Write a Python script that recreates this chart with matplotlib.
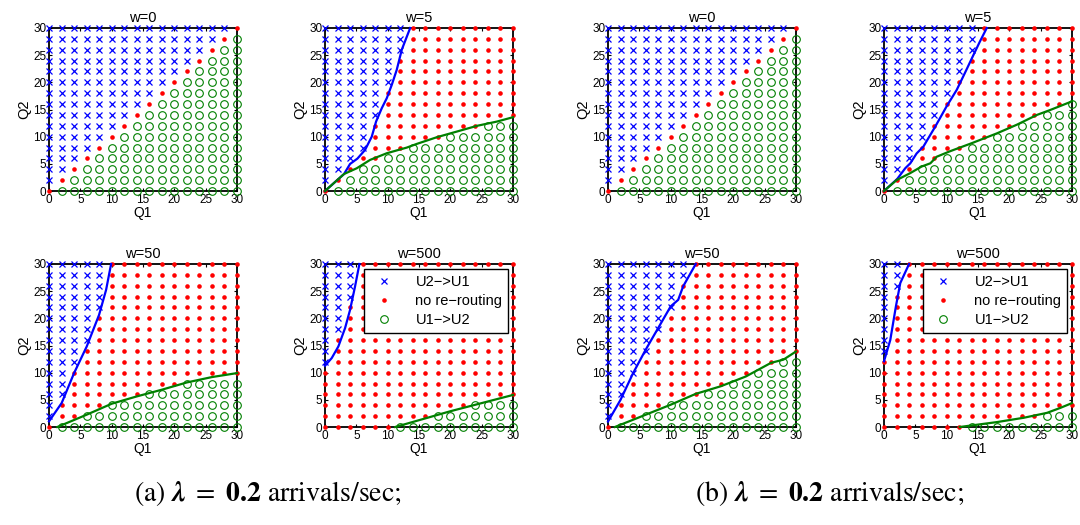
import matplotlib
matplotlib.use('Agg')
import matplotlib.pyplot as plt
from matplotlib.lines import Line2D

plt.rcParams['font.family'] = ['Liberation Sans', 'DejaVu Sans']
plt.rcParams['mathtext.fontset'] = 'stix'

# ---------------- data ----------------
Q_GRID = [0, 2, 4, 6, 8, 10, 12, 14, 16, 18, 20, 22, 24, 26, 28, 30]
TICKS = [0, 5, 10, 15, 20, 25, 30]
LEGEND_LABELS = ['U2\u2212>U1', 'no re\u2212routing', 'U1\u2212>U2']

# per Q1 column: smallest Q2 marked "U2->U1" (32 = none), largest Q2 marked "U1->U2" (-2 = none)
A_W0_BLUE_MIN = [2, 4, 6, 8, 10, 12, 14, 16, 18, 20, 22, 24, 26, 28, 30, 32]
A_W0_GREEN_MAX = [-2, 0, 2, 4, 6, 8, 10, 12, 14, 16, 18, 20, 22, 24, 26, 28]

A_W5_BLUE_MIN = [2, 4, 6, 8, 14, 20, 26, 32, 32, 32, 32, 32, 32, 32, 32, 32]
A_W5_GREEN_MAX = [-2, 0, 2, 4, 4, 6, 6, 8, 8, 8, 10, 10, 10, 12, 12, 12]
A_W5_BLUE_X = [0, 3.04, 4.0, 5.17, 6.39, 7.46, 8.15, 9.06, 9.86, 10.66, 11.45, 12.25, 13.59]
A_W5_BLUE_Y = [0, 3.13, 4.98, 5.96, 7.56, 10.0, 12.78, 15.24, 17.09, 19.55, 22.31, 26.0, 30]
A_W5_GREEN_X = [0, 3.04, 5.06, 7.19, 9.86, 13.05, 14.65, 17.85, 21.04, 24.24, 27.44, 30]
A_W5_GREEN_Y = [0, 3.13, 4.18, 5.72, 6.95, 7.99, 8.67, 9.9, 10.94, 11.99, 12.78, 13.58]

A_W50_BLUE_MIN = [2, 6, 12, 16, 22, 32, 32, 32, 32, 32, 32, 32, 32, 32, 32, 32]
A_W50_GREEN_MAX = [-2, 0, 0, 2, 2, 4, 4, 4, 6, 6, 6, 8, 8, 8, 8, 8]
A_W50_BLUE_X = [0, 2.02, 4.0, 6.02, 7.99, 9.11, 9.91]
A_W50_BLUE_Y = [1.04, 4.41, 9.92, 14.82, 20.64, 25.23, 30]
A_W50_GREEN_X = [1.33, 6.02, 10.02, 14.01, 18.0, 22.0, 26.0, 30]
A_W50_GREEN_Y = [0, 2.27, 4.29, 5.63, 6.86, 8.2, 9.19, 9.92]

A_W500_BLUE_MIN = [12, 18, 24, 32, 32, 32, 32, 32, 32, 32, 32, 32, 32, 32, 32, 32]
A_W500_GREEN_MAX = [-2, -2, -2, -2, -2, -2, 0, 0, 0, 2, 2, 2, 4, 4, 4, 4]
A_W500_BLUE_X = [0, 1.07, 2.13, 3.2, 4.0, 4.79, 5.49]
A_W500_BLUE_Y = [11.27, 12.68, 14.82, 18.19, 21.56, 25.84, 30]
A_W500_GREEN_X = [11.2, 20.0, 30]
A_W500_GREEN_Y = [0, 2.9, 5.9]

B_W0_BLUE_MIN = [2, 4, 6, 8, 10, 12, 14, 16, 18, 20, 22, 24, 26, 28, 30, 32]
B_W0_GREEN_MAX = [-2, 0, 2, 4, 6, 8, 10, 12, 14, 16, 18, 20, 22, 24, 26, 28]

B_W5_BLUE_MIN = [2, 4, 6, 10, 14, 18, 22, 26, 32, 32, 32, 32, 32, 32, 32, 32]
B_W5_GREEN_MAX = [-2, 0, 2, 4, 4, 6, 6, 8, 8, 10, 10, 12, 12, 14, 14, 16]
B_W5_BLUE_X = [0, 2.1, 3.4, 4.2, 5.2, 6.3, 8.2, 10.0, 11.6, 12.9, 14.3, 15.3, 16.4]
B_W5_BLUE_Y = [0, 2.2, 4.2, 5.1, 6.9, 8.2, 11.9, 15.6, 18.6, 21.7, 25.1, 27.5, 30]
B_W5_GREEN_X = [0, 2.0, 4.2, 6.0, 7.4, 8.4, 10.5, 14.0, 18.0, 21.2, 24.4, 26.5, 30]
B_W5_GREEN_Y = [0, 2.0, 3.3, 4.5, 5.1, 6.3, 7.3, 8.8, 10.6, 12.2, 14.0, 14.9, 16.5]

B_W50_BLUE_MIN = [2, 6, 10, 14, 18, 22, 28, 32, 32, 32, 32, 32, 32, 32, 32, 32]
B_W50_GREEN_MAX = [-2, 0, 0, 2, 2, 4, 4, 4, 6, 6, 8, 8, 10, 10, 12, 12]
B_W50_BLUE_X = [0, 2.0, 4.0, 6.0, 8.0, 10.0, 11.2, 12.0, 14.0]
B_W50_BLUE_Y = [1.0, 5.0, 9.9, 14.2, 18.2, 22.2, 23.4, 25.9, 30]
B_W50_GREEN_X = [1.1, 6.1, 10.0, 14.0, 18.0, 22.0, 26.0, 28.0, 30]
B_W50_GREEN_Y = [0, 2.3, 4.1, 6.1, 7.5, 9.3, 11.8, 12.4, 13.9]

B_W500_BLUE_MIN = [14, 26, 32, 32, 32, 32, 32, 32, 32, 32, 32, 32, 32, 32, 32, 32]
B_W500_GREEN_MAX = [-2, -2, -2, -2, -2, -2, -2, 0, 0, 0, 0, 0, 0, 2, 2, 2]
B_W500_BLUE_X = [0, 1.0, 1.9, 2.6, 4.0]
B_W500_BLUE_Y = [12.1, 16.0, 22.2, 26.5, 30]
B_W500_GREEN_X = [12.1, 18.0, 22.3, 26.0, 28.1, 30]
B_W500_GREEN_Y = [0, 0.9, 1.7, 2.6, 3.5, 4.4]

CAPTIONS = [r'(a) $\mathbfit{\lambda}\ \mathrm{=}\ \mathbf{0.2}$ arrivals/sec;',
            r'(b) $\mathbfit{\lambda}\ \mathrm{=}\ \mathbf{0.2}$ arrivals/sec;']
CAPTIONS_FALLBACK = [r'(a) $\mathbf{\lambda}\ \mathrm{=}\ \mathbf{0.2}$ arrivals/sec;',
                     r'(b) $\mathbf{\lambda}\ \mathrm{=}\ \mathbf{0.2}$ arrivals/sec;']

# ---------------- layout ----------------
W, H = 1080, 525
BLUE = (0, 0, 1)
RED = (1, 0, 0)
GREEN = (0, 0.5, 0)

panels = [
    (49, 28, 'w=0', A_W0_BLUE_MIN, A_W0_GREEN_MAX, None, None, False),
    (325, 28, 'w=5', A_W5_BLUE_MIN, A_W5_GREEN_MAX, (A_W5_BLUE_X, A_W5_BLUE_Y), (A_W5_GREEN_X, A_W5_GREEN_Y), False),
    (49, 264, 'w=50', A_W50_BLUE_MIN, A_W50_GREEN_MAX, (A_W50_BLUE_X, A_W50_BLUE_Y), (A_W50_GREEN_X, A_W50_GREEN_Y), False),
    (325, 264, 'w=500', A_W500_BLUE_MIN, A_W500_GREEN_MAX, (A_W500_BLUE_X, A_W500_BLUE_Y), (A_W500_GREEN_X, A_W500_GREEN_Y), True),
    (608, 28, 'w=0', B_W0_BLUE_MIN, B_W0_GREEN_MAX, None, None, False),
    (884, 28, 'w=5', B_W5_BLUE_MIN, B_W5_GREEN_MAX, (B_W5_BLUE_X, B_W5_BLUE_Y), (B_W5_GREEN_X, B_W5_GREEN_Y), False),
    (608, 264, 'w=50', B_W50_BLUE_MIN, B_W50_GREEN_MAX, (B_W50_BLUE_X, B_W50_BLUE_Y), (B_W50_GREEN_X, B_W50_GREEN_Y), False),
    (884, 264, 'w=500', B_W500_BLUE_MIN, B_W500_GREEN_MAX, (B_W500_BLUE_X, B_W500_BLUE_Y), (B_W500_GREEN_X, B_W500_GREEN_Y), True),
]
PW, PH = 188, 163

fig = plt.figure(figsize=(W / 100, H / 100), dpi=100)

MS_X, MS_DOT, MS_O = 5.0, 3.3, 5.5

for left, top, title, bmin, gmax, bline, gline, legend in panels:
    ax = fig.add_axes([left / W, (H - top - PH) / H, PW / W, PH / H])
    bx, by, rx, ry, gx, gy = [], [], [], [], [], []
    for i, q1 in enumerate(Q_GRID):
        for q2 in Q_GRID:
            if q2 >= bmin[i]:
                bx.append(q1); by.append(q2)
            elif q2 <= gmax[i]:
                gx.append(q1); gy.append(q2)
            else:
                rx.append(q1); ry.append(q2)
    ax.plot(bx, by, ls='none', marker='x', ms=MS_X, mew=0.9, color=BLUE, clip_on=False, zorder=3)
    ax.plot(rx, ry, ls='none', marker='o', ms=MS_DOT, mew=0, color=RED, clip_on=False, zorder=3)
    ax.plot(gx, gy, ls='none', marker='o', ms=MS_O, mew=0.8, mfc='none', mec=GREEN, clip_on=False, zorder=3)
    if bline is not None:
        ax.plot(bline[0], bline[1], color=BLUE, lw=1.6, zorder=4, clip_on=False)
    if gline is not None:
        ax.plot(gline[0], gline[1], color=GREEN, lw=1.6, zorder=4, clip_on=False)
    ax.set_xlim(0, 30)
    ax.set_ylim(0, 30)
    ax.set_xticks(TICKS)
    ax.set_yticks(TICKS)
    ax.tick_params(direction='in', length=2.5, width=0.8, labelsize=8.5, pad=2,
                   top=True, right=True, colors='black')
    for s in ax.spines.values():
        s.set_linewidth(1.3)
        s.set_color('black')
    ax.set_title(title, fontsize=10.5, pad=4)
    ax.set_xlabel('Q1', fontsize=10, labelpad=0)
    ax.set_ylabel('Q2', fontsize=10.5, labelpad=1)
    if legend:
        handles = [
            Line2D([], [], ls='none', marker='x', ms=MS_X, mew=0.9, color=BLUE),
            Line2D([], [], ls='none', marker='o', ms=MS_DOT, mew=0, color=RED),
            Line2D([], [], ls='none', marker='o', ms=MS_O, mew=0.8, mfc='none', mec=GREEN),
        ]
        leg = ax.legend(handles, LEGEND_LABELS, loc='upper right', bbox_to_anchor=(0.975, 0.968),
                        fontsize=10.5, frameon=True, fancybox=False, framealpha=1,
                        edgecolor='black', borderpad=0.4, labelspacing=0.35,
                        handlelength=2.0, handletextpad=1.15, borderaxespad=0)
        leg.get_frame().set_linewidth(1.0)
        leg.set_zorder(10)

caps = []
for txt, xc in zip(CAPTIONS, [268 / W, 830 / W]):
    caps.append(fig.text(xc, 1 - 493 / H, txt, ha='center', va='center', fontsize=20,
                         family='STIXGeneral'))
try:
    fig.canvas.draw()
except Exception:
    for c, t in zip(caps, CAPTIONS_FALLBACK):
        c.set_text(t)

fig.savefig('out.png', dpi=100)
